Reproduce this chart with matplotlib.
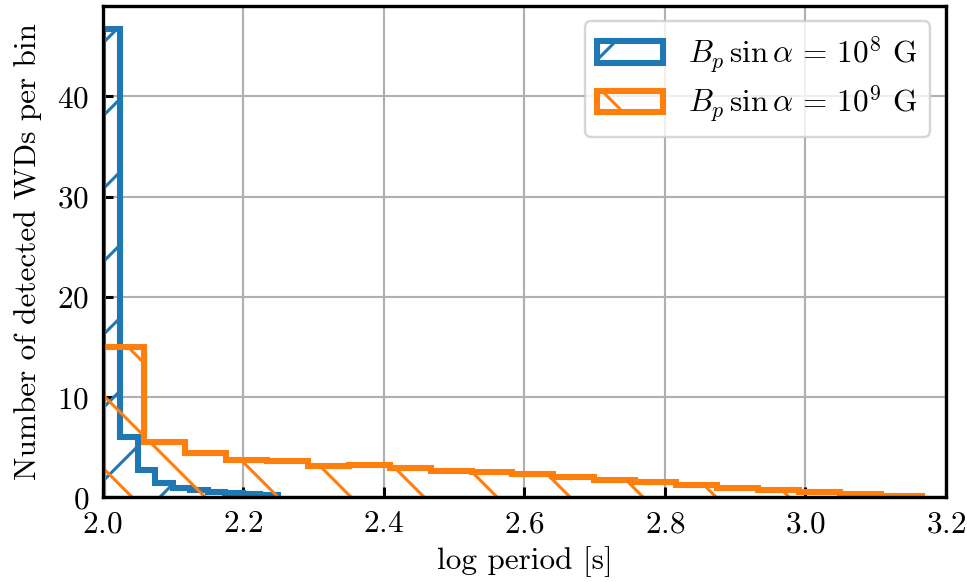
import numpy as np
import matplotlib
matplotlib.use("Agg")
import matplotlib.pyplot as plt

# histogram counts (per bin)
counts_1e8 = [46.7, 6.0, 2.7, 1.4, 0.93, 0.68, 0.55, 0.42, 0.32, 0.27]
counts_1e9 = [15.0, 5.55, 4.42, 3.75, 3.65, 3.16, 3.2, 2.92, 2.66, 2.55,
              2.33, 2.06, 1.73, 1.5, 1.23, 0.96, 0.77, 0.5, 0.33, 0.17]
range_1e8 = (2.0, 2.249)
range_1e9 = (2.0, 3.166)
labels = [r"$B_p\,\sin\alpha\,=\,10^8$ G", r"$B_p\,\sin\alpha\,=\,10^9$ G"]
xticks = [2.0, 2.2, 2.4, 2.6, 2.8, 3.0, 3.2]
yticks = [0, 10, 20, 30, 40]

DPI = 438
plt.rcParams["font.family"] = "serif"
plt.rcParams["font.serif"] = ["cmr10"]
plt.rcParams["mathtext.fontset"] = "cm"
plt.rcParams["axes.formatter.use_mathtext"] = True
plt.rcParams["font.size"] = 5.15
plt.rcParams["hatch.linewidth"] = 0.5
plt.rcParams["axes.linewidth"] = 0.55

fig = plt.figure(figsize=(967.3 / DPI, 582.3 / DPI), dpi=DPI)
ax = fig.add_axes([0.1063, 0.1455, 0.978 - 0.1063, 0.9897 - 0.1455])

edges_a = np.linspace(*range_1e8, len(counts_1e8) + 1)
edges_b = np.linspace(*range_1e9, len(counts_1e9) + 1)
ax.hist(edges_a[:-1], bins=edges_a, weights=counts_1e8, histtype="step",
        color="C0", lw=1.0, hatch="//", label=labels[0])
ax.hist(edges_b[:-1], bins=edges_b, weights=counts_1e9, histtype="step",
        color="C1", lw=1.0, hatch="\\\\", label=labels[1])

ax.set_xlim(2.0, 3.2)
ax.set_xticks(xticks)
ax.set_yticks(yticks)
ax.set_axisbelow(True)
ax.grid(True, color="#b0b0b0", lw=0.35)
ax.tick_params(direction="in", length=1.7, width=0.5, pad=2.2)
ax.set_xlabel("log period [s]", labelpad=1.3)
ax.set_ylabel("Number of detected WDs per bin", labelpad=2.5)
leg = ax.legend(loc="upper right", handlelength=2.1, labelspacing=0.3)
leg.get_frame().set_linewidth(0.4)

fig.savefig("out.png", dpi=DPI)
